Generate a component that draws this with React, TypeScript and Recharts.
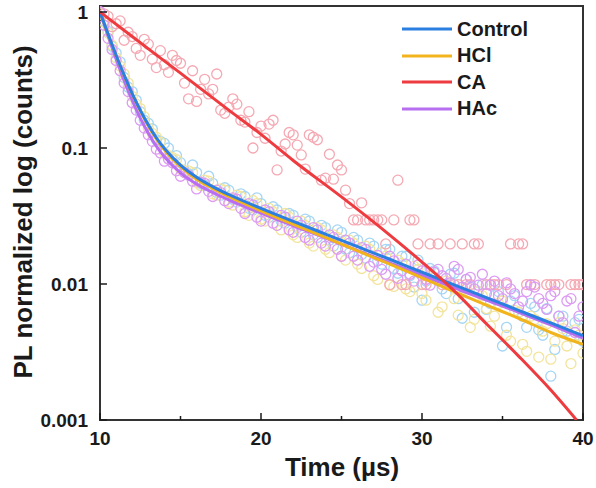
import React from "react";
import {
  ComposedChart,
  Line,
  Scatter,
  XAxis,
  YAxis,
  ReferenceArea,
  Legend,
  Label,
} from "recharts";

// measured decay traces (time in µs)
const sampleTime = [
  10, 10.5, 11, 11.5, 12, 12.5, 13, 13.5, 14, 14.5, 15, 15.5, 16, 16.5, 17, 17.5,
  18, 18.5, 19, 19.5, 20, 20.5, 21, 21.5, 22, 22.5, 23, 23.5, 24, 24.5, 25, 25.5,
  26, 26.5, 27, 27.5, 28, 28.5, 29, 29.5, 30, 30.5, 31, 31.5, 32, 32.5, 33, 33.5,
  34, 34.5, 35, 35.5, 36, 36.5, 37, 37.5, 38, 38.5, 39, 39.5, 40,
];
const sampleTimeB = [
  10.25, 10.75, 11.25, 11.75, 12.25, 12.75, 13.25, 13.75, 14.25, 14.75, 15.25, 15.75, 16.25, 16.75, 17.25, 17.75,
  18.25, 18.75, 19.25, 19.75, 20.25, 20.75, 21.25, 21.75, 22.25, 22.75, 23.25, 23.75, 24.25, 24.75, 25.25, 25.75,
  26.25, 26.75, 27.25, 27.75, 28.25, 28.75, 29.25, 29.75, 30.25, 30.75, 31.25, 31.75, 32.25, 32.75, 33.25, 33.75,
  34.25, 34.75, 35.25, 35.75, 36.25, 36.75, 37.25, 37.75, 38.25, 38.75, 39.25, 39.75,
];

const controlData = [
  1.0, 0.72, 0.5, 0.33, 0.26, 0.185, 0.152, 0.115, 0.108, 0.082, 0.078, 0.064, 0.066, 0.053, 0.055, 0.045,
  0.049, 0.04, 0.044, 0.035, 0.039, 0.031, 0.035, 0.028, 0.032, 0.024, 0.029, 0.022, 0.026, 0.019, 0.024, 0.017,
  0.021, 0.0155, 0.019, 0.014, 0.018, 0.012, 0.016, 0.0095, 0.0076, 0.013, 0.0105, 0.0085, 0.012, 0.0056, 0.0095, 0.0088,
  0.0065, 0.0082, 0.0035, 0.0075, 0.0062, 0.0048, 0.0068, 0.0042, 0.0021, 0.0058, 0.0045, 0.0052, 0.0038,
];
const controlDataB = [
  0.86, 0.56, 0.43, 0.28, 0.225, 0.16, 0.138, 0.112, 0.1, 0.088, 0.068, 0.075, 0.055, 0.062, 0.047, 0.051,
  0.042, 0.046, 0.036, 0.043, 0.032, 0.037, 0.029, 0.033, 0.026, 0.03, 0.023, 0.027, 0.021, 0.025, 0.018, 0.022,
  0.0165, 0.02, 0.0148, 0.018, 0.013, 0.016, 0.0115, 0.015, 0.0105, 0.0125, 0.0092, 0.0118, 0.0078, 0.0108, 0.0062, 0.0099,
  0.0072, 0.0088, 0.0048, 0.0082, 0.0058, 0.0072, 0.0046, 0.0066, 0.0033, 0.0058, 0.0041, 0.0055,
];

const hclData = [
  0.98, 0.7, 0.46, 0.35, 0.24, 0.195, 0.14, 0.12, 0.092, 0.085, 0.07, 0.068, 0.056, 0.058, 0.046, 0.05,
  0.04, 0.045, 0.034, 0.041, 0.03, 0.036, 0.027, 0.033, 0.023, 0.029, 0.02, 0.026, 0.018, 0.023, 0.016, 0.021,
  0.014, 0.019, 0.0115, 0.017, 0.0098, 0.015, 0.0092, 0.0135, 0.0085, 0.0115, 0.0062, 0.0105, 0.0078, 0.0095, 0.0048, 0.0088,
  0.0066, 0.0058, 0.0075, 0.0038, 0.0062, 0.0032, 0.0055, 0.0045, 0.0028, 0.0052, 0.0035, 0.0046, 0.0031,
];
const hclDataB = [
  0.84, 0.57, 0.4, 0.3, 0.21, 0.17, 0.128, 0.11, 0.088, 0.082, 0.066, 0.066, 0.053, 0.057, 0.045, 0.049,
  0.038, 0.044, 0.032, 0.039, 0.029, 0.034, 0.025, 0.031, 0.022, 0.027, 0.019, 0.025, 0.017, 0.022, 0.015, 0.02,
  0.013, 0.018, 0.0108, 0.016, 0.0096, 0.0142, 0.0088, 0.0128, 0.0076, 0.0112, 0.0068, 0.0098, 0.0059, 0.0092, 0.0055, 0.0082,
  0.0049, 0.0072, 0.0042, 0.0064, 0.0036, 0.0058, 0.0029, 0.0051, 0.0038, 0.0047, 0.0026, 0.0042,
];

// low-count trace: null = zero counts (not shown on log axis)
const caData = [
  1.0, 0.93, 0.82, 0.62, 0.66, 0.48, 0.58, 0.39, 0.41, 0.48, 0.42, 0.23, 0.22, 0.32, 0.27, 0.19,
  0.2, 0.21, 0.155, 0.1, 0.145, 0.15, 0.069, 0.107, 0.125, 0.089, 0.125, 0.115, 0.06, 0.059, 0.069, 0.039,
  0.0296, 0.0296, 0.0296, 0.0296, 0.0099, 0.058, 0.0099, 0.0296, 0.0099, 0.0197, 0.0197, 0.0099, 0.0099, 0.0197, 0.0099, 0.0197,
  0.0099, 0.0099, null, 0.0197, 0.0197, 0.0099, 0.0099, null, 0.0099, 0.0099, null, 0.0099, 0.0099,
];
const caDataB = [
  0.97, 0.78, 0.86, 0.71, 0.54, 0.63, 0.45, 0.52, 0.36, 0.44, 0.3, 0.37, 0.27, 0.25, 0.35, 0.18,
  0.23, 0.16, 0.185, 0.13, 0.118, 0.16, 0.095, 0.13, 0.105, 0.07, 0.12, 0.058, 0.09, 0.075, 0.049, 0.0296,
  0.0395, 0.0296, 0.0296, 0.0197, 0.0296, 0.0099, 0.0296, 0.0197, 0.0099, null, 0.0099, 0.0197, 0.0099, 0.0099, 0.0197, null,
  0.0099, 0.0099, 0.0099, null, 0.0197, 0.0099, null, 0.0099, 0.0099, null, 0.0099, 0.0099,
];

const hacData = [
  1.0, 0.64, 0.44, 0.3, 0.215, 0.16, 0.125, 0.098, 0.08, 0.078, 0.062, 0.063, 0.05, 0.055, 0.044, 0.047,
  0.039, 0.042, 0.033, 0.038, 0.029, 0.034, 0.027, 0.031, 0.024, 0.027, 0.021, 0.025, 0.019, 0.022, 0.016, 0.02,
  0.015, 0.018, 0.0145, 0.0128, 0.016, 0.011, 0.014, 0.0105, 0.0125, 0.0098, 0.0128, 0.011, 0.0135, 0.0095, 0.0112, 0.0098,
  0.0085, 0.0105, 0.0078, 0.0092, 0.0068, 0.0088, 0.0095, 0.0072, 0.0082, 0.0058, 0.0075, 0.0044, 0.0068,
];
const hacDataB = [
  0.8, 0.53, 0.37, 0.26, 0.19, 0.14, 0.112, 0.092, 0.083, 0.068, 0.066, 0.057, 0.056, 0.048, 0.049, 0.041,
  0.043, 0.036, 0.039, 0.031, 0.035, 0.028, 0.032, 0.025, 0.029, 0.022, 0.026, 0.02, 0.023, 0.018, 0.021, 0.016,
  0.0185, 0.0135, 0.0162, 0.0118, 0.0148, 0.0125, 0.0118, 0.0138, 0.0108, 0.0122, 0.0115, 0.0102, 0.0128, 0.0108, 0.0092, 0.0118,
  0.0098, 0.0082, 0.0102, 0.0085, 0.0075, 0.0098, 0.0078, 0.0065, 0.0088, 0.0052, 0.0078, 0.0058,
];

// fitted decay curves
const fitTime = [10, 10.5, 11, 11.5, 12, 12.5, 13, 13.5, 14, 15, 16, 17, 18, 20, 22, 24, 26, 28, 30, 32, 34, 36, 38, 40];
const controlFit = [1, 0.688, 0.481, 0.343, 0.251, 0.19, 0.148, 0.119, 0.0994, 0.0747, 0.0609, 0.052, 0.0455, 0.036, 0.0289, 0.0233, 0.0188, 0.0152, 0.0122, 0.00986, 0.00795, 0.0064, 0.00517, 0.00417];
const hclFit = [1, 0.686, 0.479, 0.341, 0.249, 0.188, 0.146, 0.117, 0.097, 0.073, 0.059, 0.0505, 0.044, 0.0345, 0.0275, 0.022, 0.0175, 0.014, 0.0111, 0.0088, 0.007, 0.0056, 0.0044, 0.0036];
const hacFit = [1, 0.665, 0.451, 0.313, 0.224, 0.166, 0.1285, 0.103, 0.0862, 0.0657, 0.0544, 0.0471, 0.0415, 0.0332, 0.0269, 0.0218, 0.0176, 0.0143, 0.0116, 0.0094, 0.0076, 0.0062, 0.005, 0.004];
const caFitTime = [10, 12, 15, 18, 20, 22, 25, 28, 30, 32, 34, 36, 38, 39.6];
const caFit = [1, 0.66, 0.355, 0.19, 0.126, 0.081, 0.0437, 0.0229, 0.0145, 0.0089, 0.0051, 0.00295, 0.00166, 0.001];

const xTicks = [10, 15, 20, 25, 30, 35, 40];
const yTicks = [0.001, 0.01, 0.1, 1];

const series = [
  { name: "Control", line: "#2a7fe0", dot: "#a6d6f5", data: controlData, dataB: controlDataB },
  { name: "HCl", line: "#f2b41c", dot: "#f3e49c", data: hclData, dataB: hclDataB },
  { name: "CA", line: "#ee3b3f", dot: "#f5a9b3", data: caData, dataB: caDataB },
  { name: "HAc", line: "#b86ef0", dot: "#dc9cf3", data: hacData, dataB: hacDataB },
];

const FONT = '"Liberation Sans", Arial, sans-serif';
const INK = "#1a1a1a";

const toPoints = (ts: number[], vs: (number | null)[]) =>
  ts.map((t, i) => ({ t, v: vs[i] })).filter((p) => p.v != null);

const XTick = (props: any) => {
  const { x, y, payload } = props;
  const major = payload.value % 10 === 0;
  return (
    <g>
      <line x1={x} x2={x} y1={y} y2={y - (major ? 7 : 4)} stroke={INK} strokeWidth={1.5} />
      {major && (
        <text x={x} y={y + 25} textAnchor="middle" fontFamily={FONT} fontWeight="bold" fontSize={19} fill={INK}>
          {payload.value}
        </text>
      )}
    </g>
  );
};

const YTick = (props: any) => {
  const { x, y, payload } = props;
  return (
    <g>
      <line x1={x} x2={x + 7} y1={y} y2={y} stroke={INK} strokeWidth={1.5} />
      <text x={x - 12} y={y + 7} textAnchor="end" fontFamily={FONT} fontWeight="bold" fontSize={19} fill={INK}>
        {String(payload.value)}
      </text>
    </g>
  );
};

const renderLegend = () => (
  <div style={{ fontFamily: FONT, fontWeight: "bold", fontSize: 20, color: INK }}>
    {series.map((s) => (
      <div key={s.name} style={{ display: "flex", alignItems: "center", height: 26.5 }}>
        <svg width={55} height={6}>
          <line x1={0} x2={50} y1={3} y2={3} stroke={s.line} strokeWidth={3} />
        </svg>
        <span>{s.name}</span>
      </div>
    ))}
  </div>
);

export default function App() {
  return (
    <div style={{ position: "absolute", left: 0, top: 0, background: "#fff" }}>
      <ComposedChart width={596} height={488} margin={{ top: 6, right: 13, bottom: 0, left: 0 }}>
        <XAxis
          dataKey="t"
          type="number"
          domain={[10, 40]}
          ticks={xTicks}
          interval={0}
          allowDataOverflow
          axisLine={false}
          tickLine={false}
          tickSize={0}
          tickMargin={0}
          height={68}
          tick={<XTick />}
        >
          <Label
            content={() => (
              <text x={342} y={476} textAnchor="middle" fontFamily={FONT} fontWeight="bold" fontSize={26} fill={INK}>
                Time (µs)
              </text>
            )}
          />
        </XAxis>
        <YAxis
          dataKey="v"
          type="number"
          scale="log"
          domain={[0.001, 1.107]}
          ticks={yTicks}
          interval={0}
          allowDataOverflow
          axisLine={false}
          tickLine={false}
          tickSize={0}
          tickMargin={0}
          width={100}
          tick={<YTick />}
        >
          <Label
            content={() => (
              <text
                x={32}
                y={212}
                transform="rotate(-90 32 212)"
                textAnchor="middle"
                fontFamily={FONT}
                fontWeight="bold"
                fontSize={26}
                fill={INK}
              >
                PL normalized log (counts)
              </text>
            )}
          />
        </YAxis>
        {series.map((s) => (
          <Scatter
            key={s.name + "-pts"}
            data={[...toPoints(sampleTime, s.data), ...toPoints(sampleTimeB, s.dataB)]}
            dataKey="v"
            zIndex={300}
            isAnimationActive={false}
            legendType="none"
            shape={(p: any) => (
              <circle cx={p.cx} cy={p.cy} r={5} fill="none" stroke={s.dot} strokeWidth={1.3} />
            )}
          />
        ))}
        <Line data={toPoints(fitTime, hacFit)} dataKey="v" type="monotone" stroke="#b86ef0" strokeWidth={3} dot={false} zIndex={700} isAnimationActive={false} />
        <Line data={toPoints(fitTime, hclFit)} dataKey="v" type="monotone" stroke="#f2b41c" strokeWidth={3} dot={false} zIndex={700} isAnimationActive={false} />
        <Line data={toPoints(fitTime, controlFit)} dataKey="v" type="monotone" stroke="#2a7fe0" strokeWidth={3} dot={false} zIndex={700} isAnimationActive={false} />
        <Line data={toPoints(caFitTime, caFit)} dataKey="v" type="monotone" stroke="#ee3b3f" strokeWidth={3} dot={false} zIndex={700} isAnimationActive={false} />
        <ReferenceArea x1={10} x2={40} y1={0.001} y2={1.107} fill="none" stroke="#333" strokeWidth={2} ifOverflow="visible" />
        <Legend
          layout="vertical"
          align="center"
          verticalAlign="middle"
          content={renderLegend}
          wrapperStyle={{ position: "absolute", left: 402, top: 16, width: "auto", height: "auto" }}
        />
      </ComposedChart>
    </div>
  );
}
